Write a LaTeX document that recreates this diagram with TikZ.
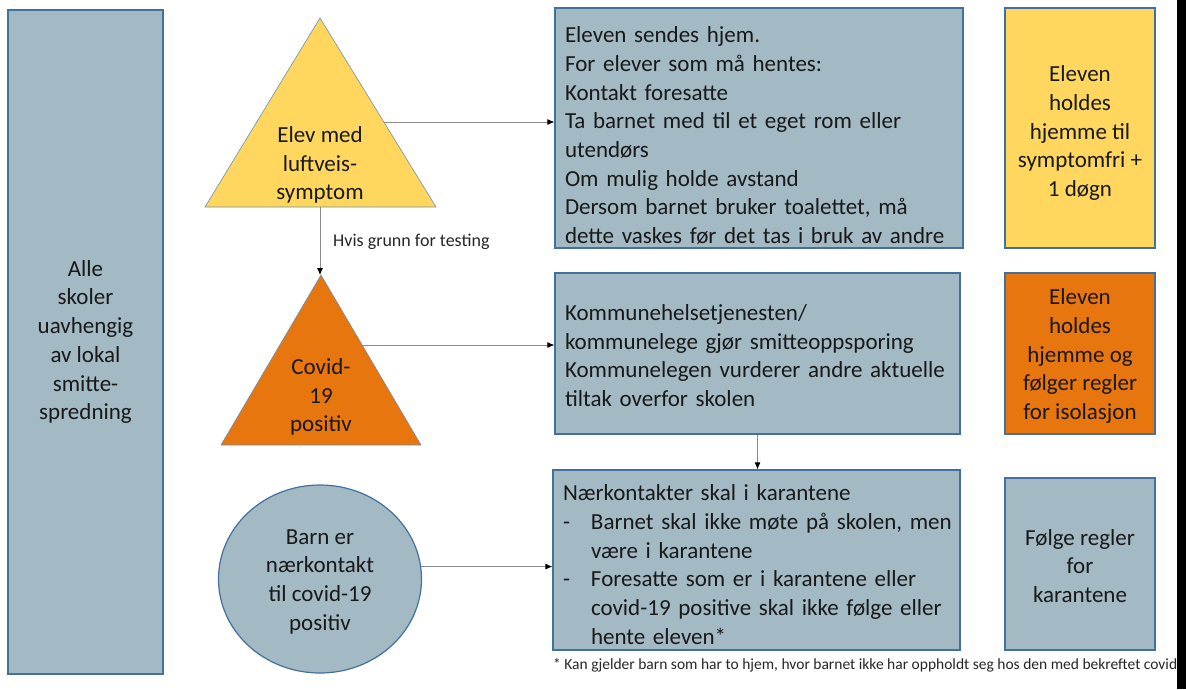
\documentclass[tikz,border=0pt]{standalone}
\usepackage{fontspec}
\setmainfont{Carlito}
\usetikzlibrary{arrows,arrows.meta,positioning,shapes.geometric}

\definecolor{boxblue}{HTML}{A3B9C4}
\definecolor{lineblue}{HTML}{41719C}
\definecolor{gul}{HTML}{FFD75E}
\definecolor{oransje}{HTML}{E8760E}
\definecolor{triline}{HTML}{6E8FB0}
\definecolor{linegray}{HTML}{8C8C8C}

\begin{document}
\begin{tikzpicture}
[x=1pt,y=-1pt,
 box/.style={draw=lineblue,fill=boxblue,line width=1.2pt,inner sep=0pt,text=black!90,font=\fontsize{23}{28.7}\selectfont},
 tri/.style={draw=triline,line width=0.6pt},
 txt/.style={align=center,inner sep=0pt,text=black!90,font=\fontsize{23}{28.7}\selectfont},
 link/.style={draw=linegray,line width=0.8pt,-{Latex[length=7pt,width=6pt,black]}}]
\useasboundingbox (0,0) rectangle (1186,689);

\node[box,minimum width=155pt,minimum height=664pt,align=center] (00) at (85.5,342) {Alle\\skoler\\uavhengig\\av lokal\\smitte-\\spredning};

\coordinate (10a) at (320,18);
\coordinate (10l) at (205,207);
\coordinate (10r) at (436,207);
\coordinate (10b) at (320,207);
\coordinate (10e) at (384,122);
\filldraw[tri,fill=gul] (10a) -- (10r) -- (10l) -- cycle;
\node[txt] (10) at (320,165) {Elev med\\luftveis-\\symptom};

\coordinate (11a) at (321,275);
\coordinate (11l) at (221,445);
\coordinate (11r) at (421,445);
\coordinate (11e) at (362,345);
\filldraw[tri,fill=oransje] (11a) -- (11r) -- (11l) -- cycle;
\node[txt] (11) at (321,397) {Covid-\\19\\positiv};

\node[box,ellipse,minimum width=203pt,minimum height=188pt,align=center] (12) at (320,579) {\rule{0pt}{20pt}Barn er\\nærkontakt\\til covid-19\\positiv};

\node[box,minimum width=408pt,minimum height=240pt,text width=388pt,align=left] (20) at (759,128) {\rule{0pt}{31pt}Eleven sendes hjem.\\For elever som må hentes:\\Kontakt foresatte\\Ta barnet med til et eget rom eller\\utendørs\\Om mulig holde avstand\\Dersom barnet bruker toalettet, må\\dette vaskes før det tas i bruk av andre};
\node[box,minimum width=405pt,minimum height=161pt,text width=385pt,align=left] (21) at (757.5,353.5) {\rule{0pt}{20pt}Kommunehelsetjenesten/\\kommunelege gjør smitteoppsporing\\Kommunelegen vurderer andre aktuelle\\tiltak overfor skolen};
\node[box,minimum width=407pt,minimum height=180pt,text width=387pt,align=left] (22) at (756.5,560) {\rule{0pt}{25pt}Nærkontakter skal i karantene\\\makebox[28pt][l]{-}\mbox{Barnet skal ikke møte på skolen, men}\\\hspace*{28pt}være i karantene\\\makebox[28pt][l]{-}Foresatte som er i karantene eller\\\hspace*{28pt}covid-19 positive skal ikke følge eller\\\hspace*{28pt}hente eleven*};

\node[box,fill=gul,minimum width=150pt,minimum height=240pt,align=center] (30) at (1080,128) {\rule{0pt}{26pt}Eleven\\holdes\\hjemme til\\symptomfri +\\1 døgn};
\node[box,fill=oransje,minimum width=150pt,minimum height=161pt,align=center] (31) at (1080,353.5) {\rule{0pt}{21pt}Eleven\\holdes\\hjemme og\\følger regler\\for isolasjon};
\node[box,minimum width=150pt,minimum height=172pt,align=center] (32) at (1080,564) {\rule{0pt}{20pt}Følge regler\\for\\karantene};

\draw [link] (10e) -- (10e -| 20.west);
\draw [link] (10b) -- (10b |- 11a);
\draw [link] (11e) -- (11e -| 21.west);
\draw [link] (12.7) -- (12.7 -| 22.west);
\draw [link] (21.south) -- (21.south |- 22.north);

\node[anchor=base west,inner sep=0pt,text=black!85,font=\fontsize{18}{20}\selectfont] (lab) at (333,246) {Hvis grunn for testing};
\node[anchor=base west,inner sep=0pt,text=black!85,font=\fontsize{15.5}{18}\selectfont] (fn) at (553,669) {* Kan gjelder barn som har to hjem, hvor barnet ikke har oppholdt seg hos den med bekreftet covid-19};
\fill[black] (1177,0) rectangle (1186,689);
\end{tikzpicture}
\end{document}
